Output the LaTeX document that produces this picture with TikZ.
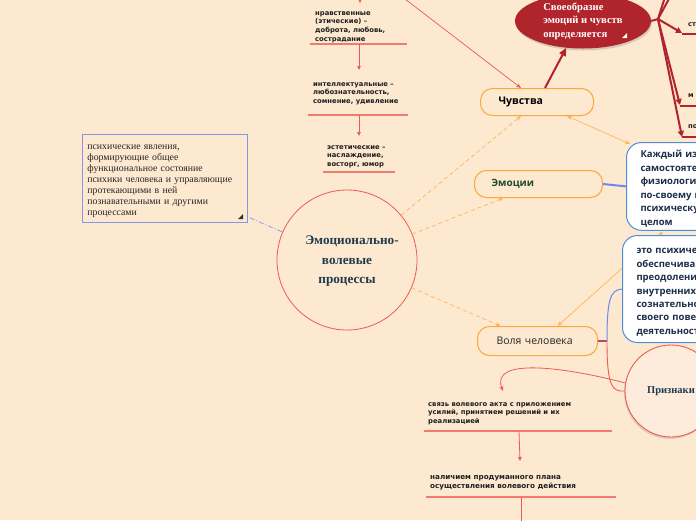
\documentclass[tikz,border=0pt]{standalone}
\usepackage{fontspec}
\setmainfont{Liberation Serif}
\newfontfamily\smallsans{DejaVu Sans}
\newfontfamily\opsans{Open Sans}
\usetikzlibrary{arrows.meta,shapes.geometric,shadows}
\definecolor{bg}{HTML}{FDE8D0}
\definecolor{redln}{HTML}{EE5A52}
\definecolor{undl}{HTML}{F27A72}
\definecolor{orng}{HTML}{FBA93A}
\definecolor{orngl}{HTML}{FFB45A}
\definecolor{darkred}{HTML}{B0242B}
\definecolor{bluebd}{HTML}{4C8FD6}
\definecolor{navy}{HTML}{1C2E4A}
\definecolor{circtx}{HTML}{1F3A4D}
\definecolor{greentx}{HTML}{1E4A2E}
\definecolor{bluedash}{HTML}{8494E6}
\definecolor{bluel}{HTML}{6A8BEA}
\definecolor{purpln}{HTML}{B0487A}
\definecolor{prizfill}{HTML}{FDEBDC}
\begin{document}
\begin{tikzpicture}[x=1pt,y=-1pt,
  tnote/.style={anchor=north west, inner sep=0pt, align=left, text=black!88,
    font=\smallsans\bfseries\fontsize{6.8}{8.7}\selectfont},
  uline/.style={draw=undl, line width=1.2pt},
  redarr/.style={draw=redln, line width=0.8pt, -{Triangle[length=4pt,width=3.5pt]}},
  topicbox/.style={draw=orng, line width=1pt, rounded corners=12pt, fill=bg,
    anchor=north west, align=left},
  bluebox/.style={draw=bluebd, line width=1pt, fill=white, rounded corners=15pt,
    anchor=north west, align=left, text=navy, inner xsep=14pt,
    font=\opsans\bfseries\fontsize{9.5}{13.45}\selectfont},
  darkln/.style={draw=darkred, line width=2pt},
  orarr/.style={draw=orngl, line width=0.7pt, {Stealth[length=5pt,width=4pt]}-{Stealth[length=5pt,width=4pt]}},
  ordash/.style={draw=orngl, line width=0.7pt, dash pattern=on 4pt off 3pt, -{Stealth[length=5pt,width=4pt]}}
]
\fill[bg] (0,0) rectangle (696,520);
\useasboundingbox (0,0) rectangle (696,520);
\clip (0,0) rectangle (696,520);

% ---------- top-left list ----------
\coordinate (topin) at (360,-12);
\coordinate (topin2) at (360,3);
\draw[redarr] (topin) -- (topin2);
\node[tnote] (n1) at (315,11) {нравственные\\(этические) –\\доброта, любовь,\\сострадание};
\coordinate (u1a) at (310,44); \coordinate (u1b) at (407,44);
\draw[uline] (u1a) -- (u1b);
\coordinate (u1m) at (359,44); \coordinate (n2t) at (359,70);
\draw[redarr] (u1m) -- (n2t);
\node[tnote] (n2) at (313,82) {интеллектуальные –\\любознательность,\\сомнение, удивление};
\coordinate (u2a) at (308,115); \coordinate (u2b) at (408,115);
\draw[uline] (u2a) -- (u2b);
\coordinate (u2m) at (359,115); \coordinate (n3t) at (359,136);
\draw[redarr] (u2m) -- (n3t);
\node[tnote] (n3) at (327,145) {эстетические –\\наслаждение,\\восторг, юмор};
\coordinate (u3a) at (323,172); \coordinate (u3b) at (395,172);
\draw[uline] (u3a) -- (u3b);

% ---------- topic boxes ----------
\node[topicbox, inner xsep=18pt, text width=77pt, minimum height=27pt,
  font=\opsans\bfseries\fontsize{10.5}{12}\selectfont] (chuv) at (480,88) {Чувства};
\node[topicbox, inner xsep=17pt, text width=94pt, minimum height=27pt, text=greentx,
  font=\opsans\bfseries\fontsize{10}{12}\selectfont] (emo) at (474,170) {Эмоции};
\node[topicbox, inner xsep=19pt, text width=82pt, minimum height=29pt, text=black!85,
  font=\opsans\fontsize{10.5}{12}\selectfont] (volya) at (477,326) {Воля человека};

\node[bluebox, text width=150pt, minimum height=84pt] (kazh) at (626,142)
 {\rule{0pt}{12pt}Каждый из них имеет\\самостоятельную\\физиологическую основу\\по-своему влияет на\\психическую жизнь в\\целом};

% ---------- central circle ----------
\node[circle, draw=redln, line width=0.8pt, minimum size=140pt, inner sep=0pt,
  align=center, text=circtx, font=\bfseries\fontsize{13.2}{19.5}\selectfont] (c) at (347,260)
  {\rule{0pt}{11pt}\hspace*{10pt}Эмоционально-\\волевые\\процессы};

% ---------- left definition box ----------
\node[draw=bluedash, line width=0.8pt, anchor=north west, inner xsep=5pt,
  text width=155pt, minimum height=88pt, align=left, text=black!85,
  font=\fontsize{9.8}{11}\selectfont] (lbox) at (82,134)
  {\rule{0pt}{10pt}психические явления,\\формирующие общее\\функциональное состояние\\психики человека и управляющие\\протекающими в ней\\познавательными и другими\\процессами};
\fill[black!80] (238,219) -- (243,219) -- (243,214) -- cycle;
\draw[bluedash, line width=0.7pt, dash pattern=on 5pt off 2pt on 1pt off 2pt]
  ([xshift=2pt,yshift=5pt]lbox.south east) -- (c);

% ---------- dark red ellipse ----------
\node[ellipse, fill=darkred, minimum width=136pt, minimum height=55pt, inner sep=0pt,
  drop shadow={opacity=0.3, shadow xshift=1pt, shadow yshift=-2pt},
  align=left, text=white, font=\bfseries\fontsize{10.6}{13.5}\selectfont] (svo) at (583,21)
  {Своеобразие\\эмоций и чувств\hspace*{9pt}\\определяется};
\fill[white] (622,38) -- (627,38) -- (627,33) -- cycle;
\draw[darkln, -{Triangle[length=8pt,width=7pt]}] ([xshift=8pt]chuv.north) -- (svo.238);

\coordinate (br) at (658,19);
\coordinate (up1) at (665,-3);
\coordinate (up2) at (670,-3);
\coordinate (st) at (682,33);
\coordinate (mm) at (680,105);
\coordinate (po) at (682,137);
\draw[darkln] (svo.east) -- (br);
\draw[darkln] (br) -- (up1);
\draw[darkln] (br) -- (up2);
\draw[darkln, -{Triangle[length=6pt,width=6pt]}] (br) -- (st);
\draw[darkln, -{Triangle[length=6pt,width=6pt]}] (br) -- (mm);
\draw[darkln, -{Triangle[length=6pt,width=6pt]}] (br) -- (po);
\coordinate (sta) at (682,34); \coordinate (stb) at (700,34);
\coordinate (mma) at (680,106); \coordinate (mmb) at (700,106);
\coordinate (poa) at (682,137); \coordinate (pob) at (700,137);
\draw[draw=darkred, line width=1.4pt] (sta) -- (stb);
\draw[draw=darkred, line width=1.4pt] (mma) -- (mmb);
\draw[draw=darkred, line width=1.4pt] (poa) -- (pob);
\node[tnote] (tst) at (688,22) {ст};
\node[tnote] (tmm) at (688,94) {м};
\node[tnote] (tpo) at (688,124) {по};

% ---------- connectors between topics ----------
\draw[redln, line width=0.7pt, -{Stealth[length=5pt,width=4pt]}] (405,-1) -- ([xshift=-16pt]chuv.north);
\draw[orarr] ([xshift=30pt]chuv.south) -- ([xshift=4pt,yshift=-2pt]kazh.north west);
\draw[orarr] ([xshift=20pt]volya.north) -- ([xshift=37pt,yshift=-1pt]kazh.south west);
\draw[ordash] (c) -- ([xshift=-16pt]chuv.south);
\draw[ordash] (c) -- ([xshift=-35pt]emo.south);
\draw[ordash] (c) -- ([xshift=-37pt]volya.north);
\draw[bluel, line width=2pt] (emo.east) -- (kazh.west);

% ---------- second blue box ----------
\node[bluebox, text width=150pt, minimum height=107pt] (eto) at (622,235)
 {\rule{0pt}{12pt}это психическая функция,\\обеспечивающая\\преодоление внешних и\\внутренних препятствий\\сознательной регуляции\\своего поведения и\\деятельности};

% ---------- Признаки ----------
\node[circle, draw=redln, line width=0.9pt, fill=prizfill, minimum size=92pt, inner sep=0pt,
  drop shadow={opacity=0.25, shadow xshift=-1pt, shadow yshift=-2pt},
  text=circtx, font=\bfseries\fontsize{10.5}{12}\selectfont] (priz) at (671,391) {Признаки};

\coordinate (vj) at (607,341);
\draw[purpln, line width=1.2pt] (volya.east) -- (vj);
\draw[bluel, line width=1pt] (vj) .. controls (607,300) and (610,290) .. (eto.west);
\draw[redln, line width=0.9pt] (vj) .. controls (607,386) and (612,392) .. (priz.west);
\coordinate (arr1) at (503,391);
\draw[redln, line width=0.8pt, -{Stealth[length=5pt,width=4pt]}] (priz.170) .. controls (560,366) and (490,358) .. (arr1);

% ---------- bottom list ----------
\node[tnote] (n4) at (428,402) {связь волевого акта с приложением\\усилий, принятием решений и их\\реализацией};
\coordinate (u4a) at (424,431); \coordinate (u4b) at (612,431);
\draw[uline] (u4a) -- (u4b);
\coordinate (u4m) at (519,431); \coordinate (n5t) at (520,461);
\draw[redarr] (u4m) -- (n5t);
\node[tnote, font=\smallsans\bfseries\fontsize{7.2}{9.3}\selectfont] (n5) at (430,475)
  {наличием продуманного плана\\осуществления волевого действия};
\coordinate (u5a) at (426,497); \coordinate (u5b) at (616,497);
\draw[uline] (u5a) -- (u5b);
\coordinate (u5m) at (521,497); \coordinate (u5e) at (521,525);
\draw[draw=redln, line width=0.8pt] (u5m) -- (u5e);
\end{tikzpicture}
\end{document}
